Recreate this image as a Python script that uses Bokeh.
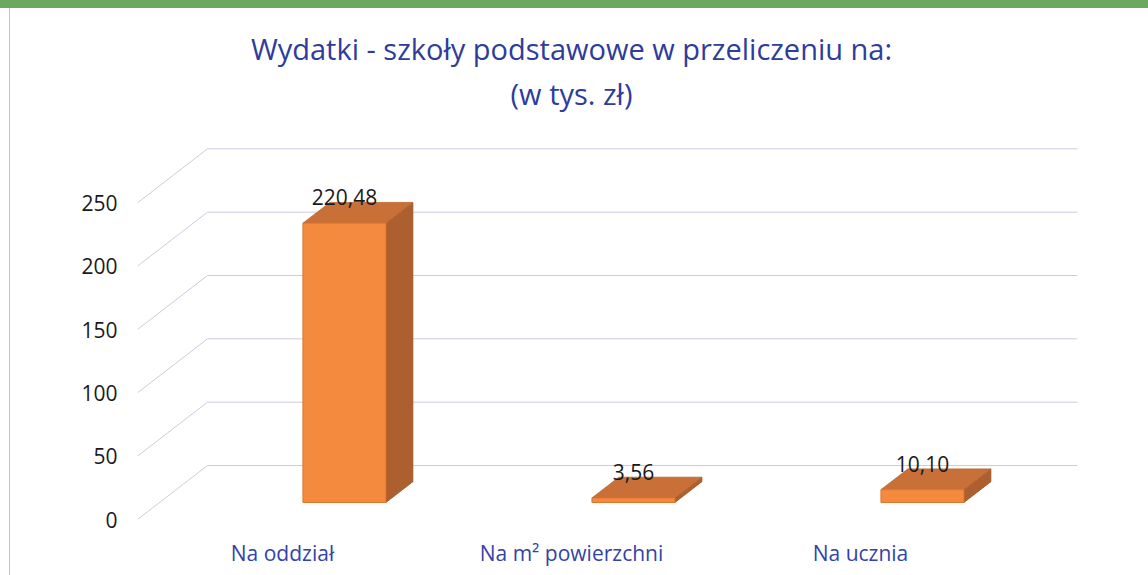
from bokeh.plotting import figure
from bokeh.models import Range1d, FixedTicker, ColumnDataSource, Label
from bokeh.core.properties import value
from bokeh.embed import file_html
from bokeh.resources import INLINE

# ---- data ----
categories = ["Na oddział", "Na m² powierzchni", "Na ucznia"]
values = [220.48, 3.56, 10.10]
y_ticks = [0, 50, 100, 150, 200, 250]
title_line1 = "Wydatki - szkoły podstawowe w przeliczeniu na:"
title_line2 = "(w tys. zł)"

# ---- styling / pseudo-3D geometry ----
FONT = "Open Sans"
TITLE_COLOR = "#2E3C9C"
CAT_COLOR = "#3343A8"
GRID_COLOR = "#C9CDE0"
FRONT = "#F48A3E"
TOP = "#C87038"
SIDE = "#AC602F"

W, H = 1148, 575
BL, BR, BT, BB = 137, 71, 0, 56            # borders around the frame
PX_X = 289.0                                # px per category step
PX_Y = 380 / 300.0                          # px per value unit
Y_END = (H - BT - BB) / PX_Y

DX = 70 / PX_X      # depth shift in x (category units)
DY = 54 / PX_Y      # depth shift in y (value units)
Z0, Z1 = 0.315, 0.70   # bar depth span
BAR_W = 83 / PX_X
BAR_SHIFT = 0.138      # bar offset from category label position (front plane)

x_start = -(282 - BL) / PX_X
x_end = x_start + (W - BL - BR) / PX_X


def cx(px):  # canvas px -> data x
    return x_start + (px - BL) / PX_X


def cy(py):  # canvas px -> data y
    return (H - BB - py) / PX_Y


p = figure(width=W, height=H, output_backend="svg", toolbar_location=None,
           x_range=Range1d(x_start, x_end), y_range=Range1d(0, Y_END),
           min_border_left=BL, min_border_right=BR, min_border_top=BT,
           min_border_bottom=BB, background_fill_alpha=0,
           border_fill_alpha=0, outline_line_color=None)
p.grid.visible = False
# scan decorations (green caption band at the top, thin page edge at left)
p.styles = {
    "background-color": "white",
    "background-image": "linear-gradient(#6BAA5E, #6BAA5E), linear-gradient(#C4C4C4, #C4C4C4)",
    "background-size": "100% 8px, 1px 100%",
    "background-position": "0 0, 9px 8px",
    "background-repeat": "no-repeat",
}

# titles
for txt, py in [(title_line1, 48), (title_line2, 93)]:
    p.add_layout(Label(x=cx(571), y=cy(py), text=txt, text_align="center",
                       text_baseline="middle", text_font=FONT,
                       text_font_size="29px", text_color=TITLE_COLOR))

# wall gridlines (side diagonals + back horizontals)
p.segment(x0=[x_start] * len(y_ticks), y0=y_ticks,
          x1=[x_start + DX] * len(y_ticks), y1=[t + DY for t in y_ticks],
          line_color=GRID_COLOR, line_width=1)
p.segment(x0=[x_start + DX] * len(y_ticks), y0=[t + DY for t in y_ticks],
          x1=[x_end] * len(y_ticks), y1=[t + DY for t in y_ticks],
          line_color=GRID_COLOR, line_width=1)

# bars
idx = list(range(len(categories)))
lefts = [i + BAR_SHIFT + Z0 * DX - BAR_W / 2 for i in idx]
rights = [i + BAR_SHIFT + Z0 * DX + BAR_W / 2 for i in idx]
bottom0 = Z0 * DY
depth_x = (Z1 - Z0) * DX
depth_y = (Z1 - Z0) * DY

side_xs, side_ys, top_xs, top_ys = [], [], [], []
for l, r, v in zip(lefts, rights, values):
    top = v + bottom0
    side_xs.append([r, r + depth_x, r + depth_x, r])
    side_ys.append([bottom0, bottom0 + depth_y, top + depth_y, top])
    top_xs.append([l, r, r + depth_x, l + depth_x])
    top_ys.append([top, top, top + depth_y, top + depth_y])

p.patches(side_xs, side_ys, fill_color=SIDE, line_color="#9A5226", line_width=0.8)
p.patches(top_xs, top_ys, fill_color=TOP, line_color="#B86430", line_width=0.8)
p.quad(left=lefts, right=rights, bottom=[bottom0] * len(values),
       top=[v + bottom0 for v in values], fill_color=FRONT,
       line_color="#E4742C", line_width=1)

# data labels
lab_src = ColumnDataSource(dict(
    x=[(l + r) / 2 for l, r in zip(lefts, rights)],
    y=[v + Z1 * DY + 4 for v in values],
    t=[f"{v:.2f}".replace(".", ",") for v in values],
))
p.text(x="x", y="y", text="t", source=lab_src, text_font=value(FONT),
       text_font_size="21px", text_color="#1A1A1A", text_align="center",
       text_baseline="middle")

# axes
p.yaxis.ticker = FixedTicker(ticks=y_ticks)
p.yaxis.axis_line_color = None
p.yaxis.major_tick_line_color = None
p.yaxis.minor_tick_line_color = None
p.yaxis.major_tick_out = 0
p.yaxis.major_label_standoff = 20
p.yaxis.major_label_text_font = FONT
p.yaxis.major_label_text_font_size = "21px"
p.yaxis.major_label_text_color = "#1A1A1A"

p.xaxis.ticker = FixedTicker(ticks=idx)
p.xaxis.major_label_overrides = {i: c for i, c in zip(idx, categories)}
p.xaxis.axis_line_color = None
p.xaxis.major_tick_line_color = None
p.xaxis.minor_tick_line_color = None
p.xaxis.major_tick_out = 0
p.xaxis.major_label_standoff = 19
p.xaxis.major_label_text_font = FONT
p.xaxis.major_label_text_font_size = "21px"
p.xaxis.major_label_text_color = CAT_COLOR

open("out.html", "w").write(file_html(p, INLINE))
